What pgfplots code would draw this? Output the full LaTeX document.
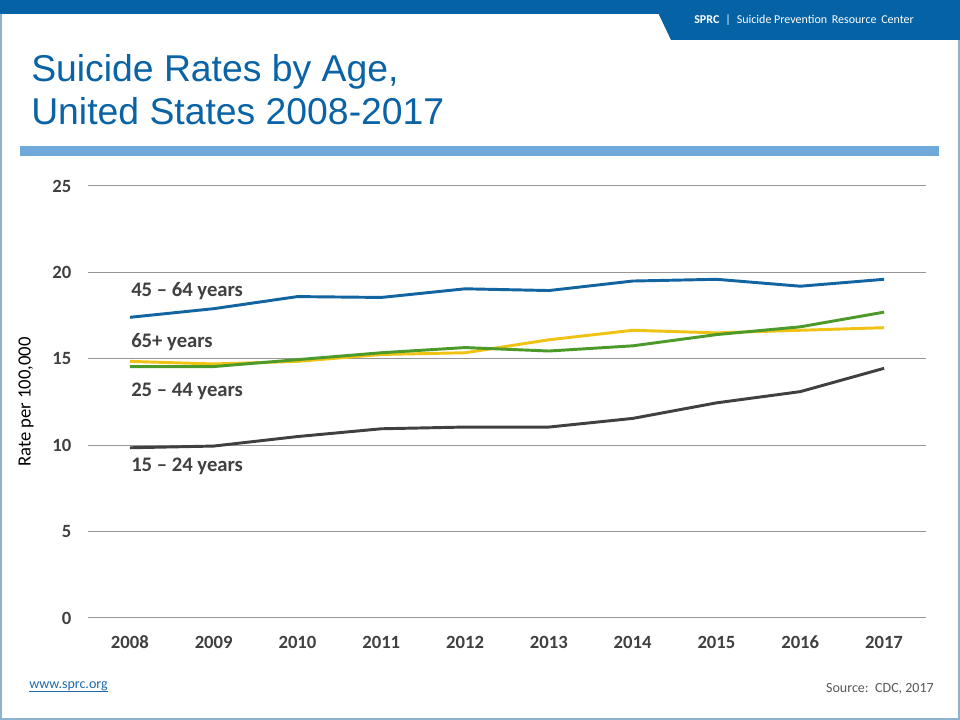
\documentclass[border=0pt]{standalone}
\usepackage{fontspec}
\setmainfont{Carlito}
\newfontfamily\arial{Liberation Sans}
\usepackage{pgfplots}
\pgfplotsset{compat=1.18}

\definecolor{hdrblue}{RGB}{5,99,165}
\definecolor{titleblue}{RGB}{10,99,164}
\definecolor{rule}{RGB}{111,169,217}
\definecolor{frame}{RGB}{140,180,207}
\definecolor{txt}{RGB}{64,64,64}
\definecolor{gridc}{RGB}{150,150,150}
\definecolor{cblue}{RGB}{18,101,160}
\definecolor{cgreen}{RGB}{76,154,42}
\definecolor{cyellow}{RGB}{240,194,20}
\definecolor{cgray}{RGB}{64,64,64}
\definecolor{srcgray}{RGB}{89,89,89}
\definecolor{linkblue}{RGB}{31,105,170}

\begin{document}
\begin{tikzpicture}
\useasboundingbox (0,0) rectangle (720pt,540pt);
\fill[white] (0,0) rectangle (720pt,540pt);

% slide frame and header
\draw[frame, line width=1.1pt] (0.6pt,530pt) -- (0.6pt,0.6pt) -- (719.4pt,0.6pt) -- (719.4pt,530pt);
\fill[hdrblue] (0,529.5pt) rectangle (720pt,540pt);
\fill[hdrblue] (489pt,540pt) -- (503.25pt,510pt) -- (720pt,510pt) -- (720pt,540pt) -- cycle;
\node[anchor=base west, inner sep=0, text=white, font=\fontsize{9}{11}\selectfont]
  at (520.5pt,522pt) {\textbf{SPRC}\enspace|\enspace Suicide Prevention\, Resource\, Center};

% title
\node[anchor=base west, inner sep=0, text=titleblue, font=\arial\fontsize{28}{32}\selectfont]
  at (23.25pt,478.5pt) {Suicide Rates by Age,};
\node[anchor=base west, inner sep=0, text=titleblue, font=\arial\fontsize{28}{32}\selectfont]
  at (23.25pt,446.25pt) {United States 2008-2017};
\fill[rule] (15pt,423pt) rectangle (704.25pt,430.5pt);

\begin{axis}[
    at={(66pt,76.5pt)}, anchor=south west,
    scale only axis,
    width=628.5pt, height=324pt,
    xmin=2007.5, xmax=2017.5,
    ymin=0, ymax=25,
    xtick={2008,...,2017},
    ytick={0,5,10,15,20,25},
    axis line style={draw=none},
    major tick length=0pt,
    ymajorgrids=true,
    grid style={gridc, line width=0.75pt},
    /pgf/number format/1000 sep={},
    /pgf/number format/assume math mode=true,
    tick label style={font=\fontsize{14}{16}\selectfont\bfseries, text=txt},
    xticklabel style={anchor=north, text height=10pt, text depth=0pt, yshift=-9pt},
    yticklabel style={xshift=-9pt},
    clip=false,
    every axis plot/.append style={line width=2.2pt, line join=round, no markers},
]
% 45-64 years
\addplot[cblue] coordinates {
  (2008,17.4)(2009,17.9)(2010,18.6)(2011,18.55)(2012,19.05)
  (2013,18.95)(2014,19.5)(2015,19.6)(2016,19.2)(2017,19.6)};
% 65+ years
\addplot[cyellow] coordinates {
  (2008,14.85)(2009,14.7)(2010,14.85)(2011,15.25)(2012,15.35)
  (2013,16.1)(2014,16.65)(2015,16.5)(2016,16.65)(2017,16.8)};
% 25-44 years
\addplot[cgreen] coordinates {
  (2008,14.55)(2009,14.55)(2010,14.95)(2011,15.35)(2012,15.65)
  (2013,15.45)(2014,15.75)(2015,16.4)(2016,16.85)(2017,17.7)};
% 15-24 years
\addplot[cgray] coordinates {
  (2008,9.85)(2009,9.95)(2010,10.5)(2011,10.95)(2012,11.05)
  (2013,11.05)(2014,11.55)(2015,12.45)(2016,13.1)(2017,14.45)};
\end{axis}

% series labels
\begin{scope}[every node/.style={anchor=west, inner sep=0, text=txt,
    font=\fontsize{15.5}{17}\selectfont\bfseries}]
\node at (98.25pt,321.75pt) {45 -- 64 years};
\node at (98.25pt,283.5pt) {65+ years};
\node at (98.25pt,246.75pt) {25 -- 44 years};
\node at (98.25pt,190.5pt) {15 -- 24 years};
\end{scope}

% y label
\node[rotate=90, inner sep=0, text=black, font=\fontsize{14}{16}\selectfont]
  at (19.5pt,238.5pt) {Rate per 100,000};

% footer
\node[anchor=base west, inner sep=0, text=linkblue, font=\fontsize{10.5}{12}\selectfont]
  at (21.75pt,23.25pt) {www.sprc.org};
\draw[linkblue, line width=0.5pt] (21.75pt,21.6pt) -- (81pt,21.6pt);
\node[anchor=base east, inner sep=0, text=srcgray, font=\fontsize{10.5}{12}\selectfont]
  at (700.5pt,20.25pt) {Source:\, CDC, 2017};
\end{tikzpicture}
\end{document}
